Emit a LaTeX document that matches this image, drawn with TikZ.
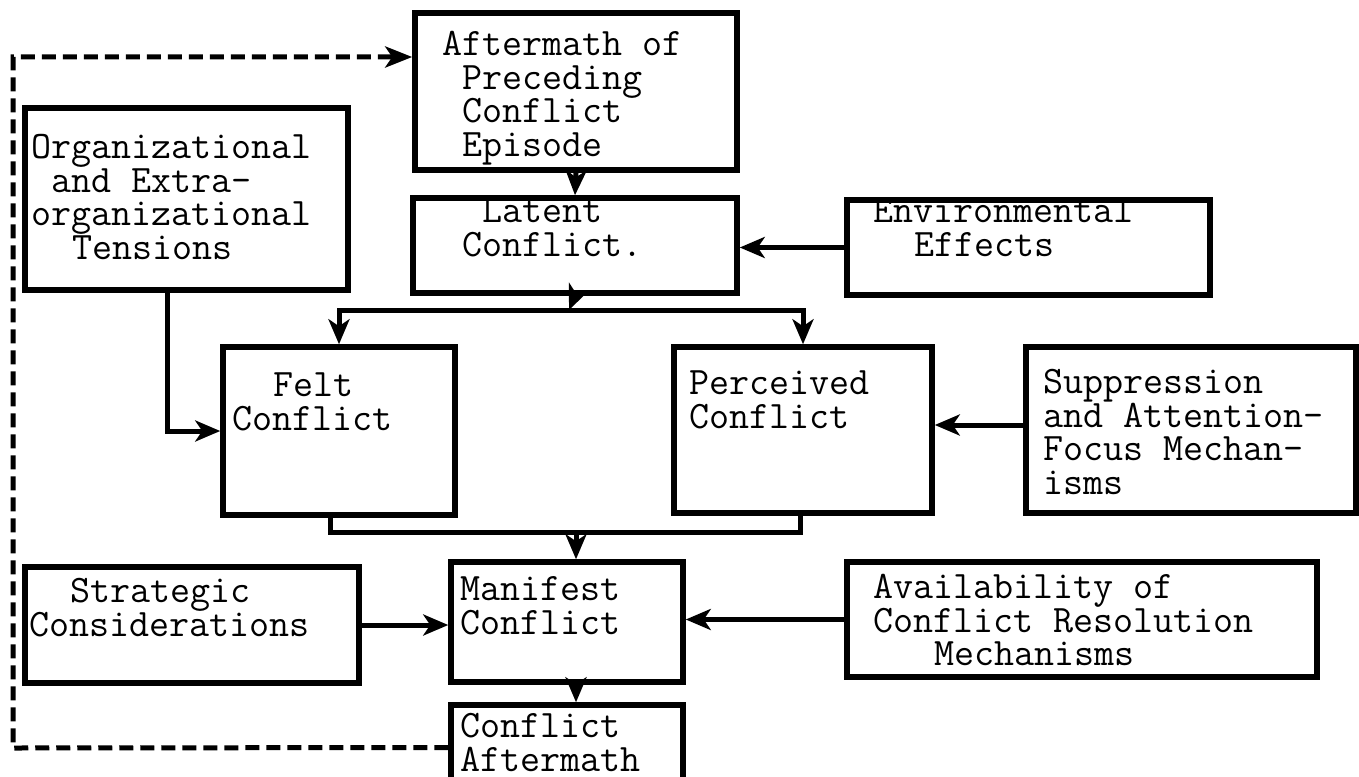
\documentclass[tikz,border=0pt]{standalone}
\usepackage{fontspec}
\usetikzlibrary{arrows.meta,calc}
% typewriter indent of n character cells
\newcommand{\indt}[1]{\hspace*{#1\dimexpr0.525em\relax}}
\begin{document}
\begin{tikzpicture}[x=1pt,y=-1pt,
  box/.style={draw, rectangle, line width=5.5pt, inner sep=0pt},
  lbl/.style={anchor=north west, inner sep=0pt, align=left,
    font={\ttfamily\fontsize{38.9}{33.8}\selectfont\lineskiplimit=-100pt}},
  link/.style={line width=5pt, line cap=rect},
  arr/.style={line width=5pt, -{Stealth[length=25pt,width=21pt,inset=7pt]}},
  fb/.style={line width=5pt, dash pattern=on 14pt off 7pt,
    -{Stealth[length=27pt,width=21pt,inset=7pt]}}]
\useasboundingbox (0,0) rectangle (1359,776);
\clip (0,0) rectangle (1359,776);

% boxes
\node[box, minimum width=322pt, minimum height=157pt] (aft)   at (576,91.5)   {};
\node[box, minimum width=323pt, minimum height=182pt] (org)   at (186.5,199)  {};
\node[box, minimum width=324pt, minimum height=95pt]  (lat)   at (575,245.5)  {};
\node[box, minimum width=363pt, minimum height=95pt]  (env)   at (1028.5,247.5) {};
\node[box, minimum width=232pt, minimum height=168pt] (felt)  at (339,431)    {};
\node[box, minimum width=258pt, minimum height=166pt] (perc)  at (803,430)    {};
\node[box, minimum width=330pt, minimum height=166pt] (supp)  at (1191,430)   {};
\node[box, minimum width=334pt, minimum height=116pt] (strat) at (192,625)    {};
\node[box, minimum width=232pt, minimum height=120pt] (man)   at (567,622)    {};
\node[box, minimum width=470pt, minimum height=115pt] (avail) at (1082,619.5) {};
\node[box, minimum width=232pt, minimum height=85pt]  (aftm)  at (567,747.5)  {};

% box texts (first baseline 30pt below the anchor)
\node[lbl] (aft-t)   at (442,25)   {\rule{0pt}{30pt}Aftermath of\\\indt1Preceding\\\indt1Conflict\\\indt1Episode};
\node[lbl] (org-t)   at (31,128)   {\rule{0pt}{30pt}Organizational\\\indt1and Extra-\\organizational\\\indt2Tensions};
\node[lbl] (lat-t)   at (462,192)  {\rule{0pt}{30pt}\indt1Latent\\Conflict.};
\node[lbl] (env-t)   at (873,192)  {\rule{0pt}{30pt}Environmental\\\indt2Effects};
\node[lbl] (felt-t)  at (232,366)  {\rule{0pt}{30pt}\indt2Felt\\Conflict};
\node[lbl] (perc-t)  at (689,364)  {\rule{0pt}{30pt}Perceived\\Conflict};
\node[lbl] (supp-t)  at (1043,363) {\rule{0pt}{30pt}Suppression\\and Attention-\\Focus Mechan-\\isms};
\node[lbl] (strat-t) at (29,572)   {\rule{0pt}{30pt}\indt2Strategic\\Considerations};
\node[lbl] (man-t)   at (460,570)  {\rule{0pt}{30pt}Manifest\\Conflict};
\node[lbl] (avail-t) at (873,568)  {\rule{0pt}{30pt}Availability of\\Conflict Resolution\\\indt3Mechanisms};
\node[lbl] (aftm-t)  at (460,707)  {\rule{0pt}{30pt}Conflict\\Aftermath};

% junction points
\coordinate (split) at (569,310);
\coordinate (merge) at (576,532);
\coordinate (fbbot) at (13,748);
\coordinate (fbtop) at (13,57);

% connectors
\draw[arr] (aft.south) -- (lat.north);
\draw[arr] (lat.south) -- (split);
\draw[link] (felt.north |- split) -- (perc.north |- split);
\draw[arr] (felt.north |- split) -- (felt.north);
\draw[arr] (perc.north |- split) -- (perc.north);
\draw[arr] (env.west) -- (env.west -| lat.east);
\draw[arr] ($(org.south)+(-19.5,0)$) |- (felt.west);
\draw[arr] ($(supp.west)+(0,-5)$) -- ($(supp.west -| perc.east)+(0,-5)$);
\draw[link] ($(felt.south)+(-9,0)$) |- (merge) -| ($(perc.south)+(-3,0)$);
\draw[arr] (merge) -- (merge |- man.north);
\draw[arr] (strat.east) -- (strat.east -| man.west);
\draw[arr] (avail.west) -- (avail.west -| man.east);
\draw[arr] ($(man.south)+(9,0)$) -- ($(aftm.north)+(9,0)$);

% feedback loop
\draw[fb] (aftm.west) -- (fbbot) -- (fbtop) -- (fbtop -| aft.west);
\end{tikzpicture}
\end{document}
